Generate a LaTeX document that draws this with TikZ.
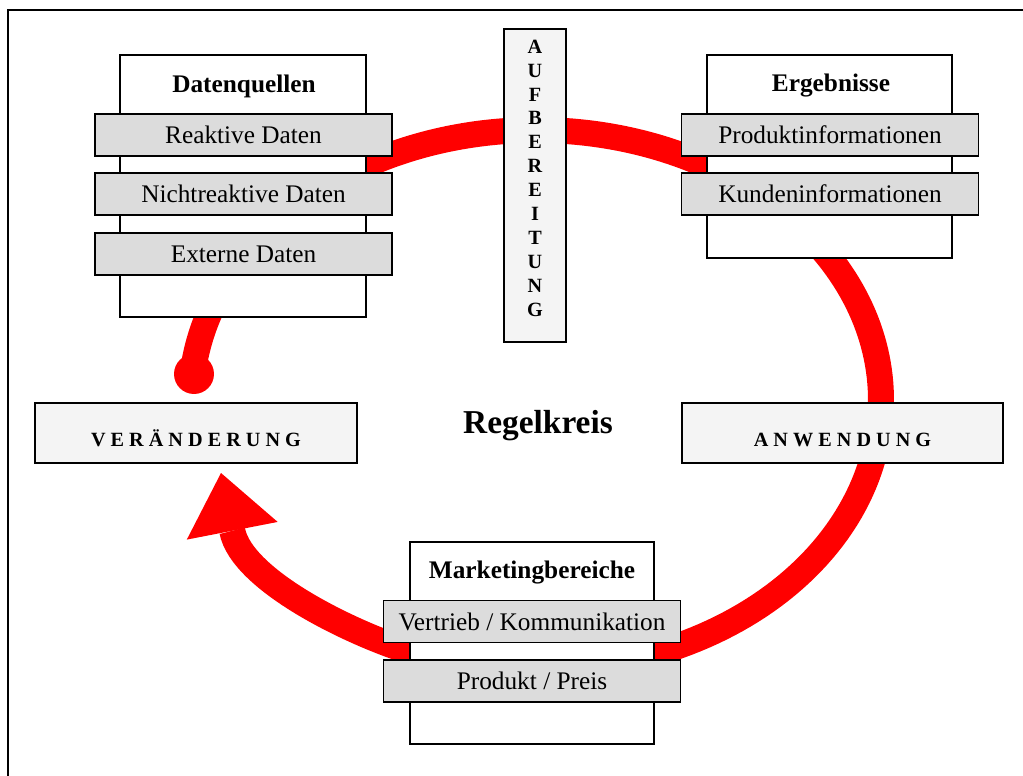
\documentclass[tikz,border=0pt]{standalone}
\usepackage{fontspec}
\setmainfont{Liberation Serif}
\usepackage{tikz}
\usetikzlibrary{arrows.meta}
\definecolor{barGray}{RGB}{220,220,220}
\definecolor{stageGray}{RGB}{244,244,244}
\definecolor{ringRed}{RGB}{255,0,0}
\tikzset{boxline/.style={draw,line width=0.9pt,inner sep=0pt}}
\tikzset{panel/.style={boxline,fill=white}}
\tikzset{itembar/.style={boxline,fill=barGray,minimum width=5.94cm,minimum height=0.84cm,font=\fontsize{14.4}{17}\selectfont}}
\tikzset{stage/.style={boxline,fill=stageGray,minimum height=1.2cm,text height=15.6pt,text depth=0pt,font=\bfseries\fontsize{11.5}{14}\selectfont}}
\tikzset{titletext/.style={anchor=base,font=\bfseries\fontsize{14.4}{17}\selectfont}}
\tikzset{ringarc/.style={ringRed,line width=0.52cm}}

\begin{document}
\begin{tikzpicture}[x=0.02cm,y=-0.02cm]
    \useasboundingbox (0,0) rectangle (1023,776);
    \draw[line width=1.1pt] (8,776) -- (8,10) -- (1023,10);

    % red ring, drawn first so the boxes lie on top
    \coordinate (dot) at (194,374);
    \draw[ringarc] plot[domain=-158:-174.5,samples=20] ({536+345*cos(\x)},{400+270*sin(\x)});
    \fill[ringRed] (dot) circle (0.4cm);
    \draw[ringarc] plot[domain=-122:-94,samples=30] ({536+345*cos(\x)},{400+270*sin(\x)});
    \draw[ringarc] plot[domain=-86:-58,samples=30] ({536+345*cos(\x)},{400+270*sin(\x)});
    \draw[ringarc] plot[domain=-36:3,samples=30] ({536+345*cos(\x)},{400+270*sin(\x)});
    \draw[ringarc] plot[domain=10:72,samples=40] ({536+345*cos(\x)},{400+270*sin(\x)});
    \draw[ringarc,-{Triangle[length=33.5pt,width=52.7pt,line width=0pt]}] (412,652) .. controls (354.5,634.7) and (242,581) .. (221,473);

    \node[panel,minimum width=4.92cm,minimum height=5.24cm] (quellen) at (243,186) {};
    \node[titletext] (quellenT) at (244,93) {Datenquellen};
    \node[itembar] (reaktiv) at (243.5,135) {Reaktive Daten};
    \node[itembar] (nichtreaktiv) at (243.5,194) {Nichtreaktive Daten};
    \node[itembar] (extern) at (243.5,254) {Externe Daten};

    \node[panel,minimum width=4.9cm,minimum height=4.06cm] (ergebnis) at (829.5,156.5) {};
    \node[titletext] (ergebnisT) at (831,92) {Ergebnisse};
    \node[itembar] (produktinfo) at (830,135) {Produktinformationen};
    \node[itembar] (kundeninfo) at (830,194) {Kundeninformationen};

    \node[panel,minimum width=4.88cm,minimum height=4.04cm] (marketing) at (532,643) {};
    \node[titletext] (marketingT) at (532,578) {Marketingbereiche};
    \node[itembar] (vertrieb) at (532,621.5) {Vertrieb / Kommunikation};
    \node[itembar] (produkt) at (532,681) {Produkt / Preis};

    \node[stage,minimum width=1.24cm,minimum height=6.26cm] (aufb) at (535,185.5) {};
    \foreach \ch [count=\i from 0] in {A,U,F,B,E,R,E,I,T,U,N,G}
        \node[anchor=base,font=\bfseries\fontsize{11.5}{14}\selectfont] (aufb\i) at (535,53.3+23.9*\i) {\ch};

    \node[stage,minimum width=6.44cm] (veraenderung) at (196,433) {V E R Ä N D E R U N G};
    \node[stage,minimum width=6.42cm] (anwendung) at (842.5,433) {A N W E N D U N G};
    \node[anchor=base,font=\bfseries\fontsize{19}{23}\selectfont] (regelkreis) at (538,433) {Regelkreis};
\end{tikzpicture}
\end{document}
